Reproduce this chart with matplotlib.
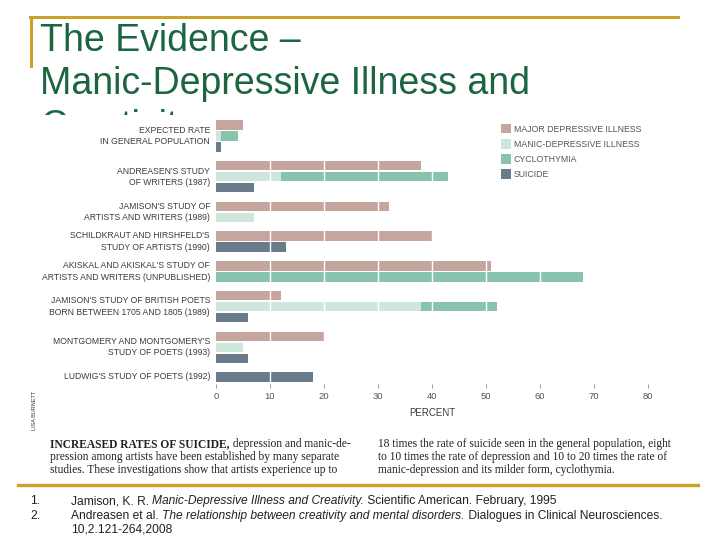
import matplotlib.pyplot as plt
import numpy as np
from matplotlib.lines import Line2D
from matplotlib.patches import Patch, Rectangle

nan = np.nan

studies = [
    "EXPECTED RATE\nIN GENERAL POPULATION",
    "ANDREASEN'S STUDY\nOF WRITERS (1987)",
    "JAMISON'S STUDY OF\nARTISTS AND WRITERS (1989)",
    "SCHILDKRAUT AND HIRSHFELD'S\nSTUDY OF ARTISTS (1990)",
    "AKISKAL AND AKISKAL'S STUDY OF\nARTISTS AND WRITERS (UNPUBLISHED)",
    "JAMISON'S STUDY OF BRITISH POETS\nBORN BETWEEN 1705 AND 1805 (1989)",
    "MONTGOMERY AND MONTGOMERY'S\nSTUDY OF POETS (1993)",
    "LUDWIG'S STUDY OF POETS (1992)",
]
major = [5, 38, 32, 40, 51, 12, 20, nan]
manic = [1, 12, 7, nan, nan, 38, 5, nan]
cyclo = [4, 43, nan, nan, 68, 52, nan, nan]
suicide = [1, 7, nan, 13, nan, 6, 6, 18]

series_names = ["MAJOR DEPRESSIVE ILLNESS", "MANIC-DEPRESSIVE ILLNESS",
                "CYCLOTHYMIA", "SUICIDE"]
colors = ["#c4a69f", "#cfe6dc", "#88c4ad", "#6a7c8c"]

xticks = [0, 10, 20, 30, 40, 50, 60, 70, 80]

title_lines = ["The Evidence \u2013", "Manic-Depressive Illness and", "Creativity"]

caption_left = ["pression among artists have been established by many separate",
                "studies. These investigations show that artists experience up to"]
caption_right = ["18 times the rate of suicide seen in the general population, eight",
                 "to 10 times the rate of depression and 10 to 20 times the rate of",
                 "manic-depression and its milder form, cyclothymia."]

small = "Liberation Sans"
W, H = 720, 540

fig = plt.figure(figsize=(7.2, 5.4), dpi=100)
fig.patch.set_facecolor("white")

def fx(px):
    return px / W

def fy(py):
    return 1 - py / H

# slide frame (gold lines)
gold = "#c9a12b"
fig.add_artist(Line2D([fx(30), fx(678)], [fy(17), fy(17)], color=gold, lw=2.2))
fig.add_artist(Line2D([fx(31), fx(31)], [fy(17), fy(66)], color=gold, lw=2.2))
fig.add_artist(Line2D([fx(18), fx(698)], [fy(485), fy(485)], color=gold, lw=2.4))

# title (third line mostly hidden behind the chart picture)
for i, line in enumerate(title_lines):
    fig.text(fx(40), fy(51 + i * 43), line, fontsize=27, color="#1b6640",
             family="Liberation Sans", va="baseline", zorder=3)

# white picture area covering the title
fig.add_artist(Rectangle((fx(20), fy(432)), fx(700) - fx(20), fy(115) - fy(432),
                         transform=fig.transFigure, facecolor="white",
                         edgecolor="none", zorder=4))

# chart
ax = fig.add_axes([fx(216), fy(384), fx(648) - fx(216), fy(118) - fy(384)], zorder=5)
ax.patch.set_alpha(0)
gap = 0.7
bh = 0.86
pos = 0.0
for i, name in enumerate(studies):
    rows = []
    if not np.isnan(major[i]):
        ax.barh(pos, major[i], height=bh, color=colors[0], lw=0)
        rows.append(pos)
        pos += 1
    if not (np.isnan(manic[i]) and np.isnan(cyclo[i])):
        if not np.isnan(cyclo[i]):
            ax.barh(pos, cyclo[i], height=bh, color=colors[2], lw=0)
        if not np.isnan(manic[i]):
            ax.barh(pos, manic[i], height=bh, color=colors[1], lw=0)
        rows.append(pos)
        pos += 1
    if not np.isnan(suicide[i]):
        ax.barh(pos, suicide[i], height=bh, color=colors[3], lw=0)
        rows.append(pos)
        pos += 1
    ax.text(-1.1, np.mean(rows), name, ha="right", va="center", fontsize=6.2,
            color="#3c3c3c", family=small, linespacing=1.35)
    pos += gap
last = pos - 1 - gap

for t in xticks[1:]:
    ax.axvline(t, color="white", lw=1, zorder=3)

ax.set_xlim(0, 80)
ax.set_ylim(last + 0.64, -0.64)
ax.set_yticks([])
ax.set_xticks(xticks)
ax.tick_params(axis="x", length=3, width=0.6, color="#888888", labelsize=6.8,
               labelcolor="#555555", pad=3)
for lab in ax.get_xticklabels():
    lab.set_family(small)
for s in ax.spines.values():
    s.set_visible(False)
ax.set_xlabel("PERCENT", fontsize=7, color="#3c3c3c", family=small, labelpad=5)

# legend
handles = [Patch(facecolor=c, edgecolor="none") for c in colors]
leg = fig.legend(handles, series_names, loc="upper left",
                 bbox_to_anchor=(fx(493), fy(116)), frameon=False,
                 handlelength=1.1, handleheight=1.3, handletextpad=0.4,
                 labelspacing=0.62, prop={"family": small, "size": 6.3})
leg.set_zorder(6)
for t in leg.get_texts():
    t.set_color("#555555")

fig.text(fx(35), fy(410), "LISA BURNETT", rotation=90, fontsize=4, color="#333333",
         family=small, ha="center", va="center", zorder=6)

# caption
serif = "Liberation Serif"
cap_size = 8.3
ct = fig.text(fx(50), fy(447), "INCREASED RATES OF SUICIDE,", fontsize=cap_size,
              family=serif, weight="bold", color="#222222", zorder=6)
a = ax.annotate(" depression and manic-de-", xy=(1, 0), xycoords=ct,
                fontsize=cap_size, family=serif, color="#222222", va="bottom",
                annotation_clip=False)
for i, line in enumerate(caption_left):
    fig.text(fx(50), fy(460 + i * 13), line, fontsize=cap_size, family=serif,
             color="#222222", zorder=6)
for i, line in enumerate(caption_right):
    fig.text(fx(378), fy(447 + i * 13), line, fontsize=cap_size, family=serif,
             color="#222222", zorder=6)

# references
ref_font = dict(fontsize=8.65, family="Liberation Sans", color="#222222")
fig.text(fx(30), fy(504), "1.", **ref_font)
fig.text(fx(30), fy(519), "2.", **ref_font)
r1 = fig.text(fx(71), fy(504), "Jamison, K. R. ", **ref_font)
r1b = fig.text(0, 0, "Manic-Depressive Illness and Creativity.", style="italic", **ref_font)
r1c = fig.text(0, 0, " Scientific American. February, 1995", **ref_font)
r2 = fig.text(fx(71), fy(519), "Andreasen et al. ", **ref_font)
r2b = fig.text(0, 0, "The relationship between creativity and mental disorders.",
               style="italic", **ref_font)
r2c = fig.text(0, 0, " Dialogues in Clinical Neurosciences.", **ref_font)
fig.text(fx(71), fy(533), "10,2.121-264,2008", **ref_font)

fig.canvas.draw()
r = fig.canvas.get_renderer()
inv = fig.transFigure.inverted()
for prev, nxt in [(r1, r1b), (r1b, r1c), (r2, r2b), (r2b, r2c)]:
    bb = prev.get_window_extent(r)
    x1 = inv.transform((bb.x1, 0))[0]
    nxt.set_position((x1, prev.get_position()[1]))
    fig.canvas.draw()

fig.savefig("out.png", dpi=100)
